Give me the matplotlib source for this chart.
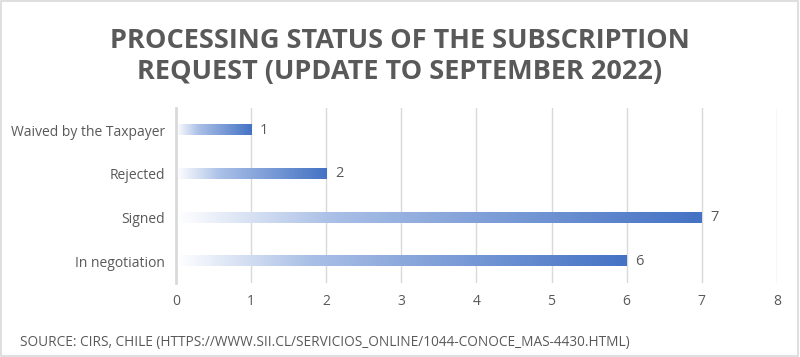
import matplotlib.pyplot as plt
import matplotlib.patches as patches
from matplotlib.colors import LinearSegmentedColormap
import numpy as np

categories = ['In negotiation', 'Signed', 'Rejected', 'Waived by the Taxpayer']
values = [6, 7, 2, 1]
xticks = [0, 1, 2, 3, 4, 5, 6, 7, 8]

title = 'PROCESSING STATUS OF THE SUBSCRIPTION\nREQUEST (UPDATE TO SEPTEMBER 2022)'
source = 'SOURCE: CIRS, CHILE (HTTPS://WWW.SII.CL/SERVICIOS_ONLINE/1044-CONOCE_MAS-4430.HTML)'

grey = '#595959'
blue = '#4472C4'
plt.rcParams['font.family'] = ['Open Sans', 'DejaVu Sans']

fig = plt.figure(figsize=(8, 3.57), dpi=100)
ax = fig.add_axes([0.22, 0.207, 0.751, 0.49])

# white -> light blue fast, then to full blue
cmap = LinearSegmentedColormap.from_list(
    'fade', [(0, '#ffffff'), (0.3, '#a9bfe6'), (1, blue)])
grad = np.linspace(0, 1, 256).reshape(1, -1)
bar_h = 0.23
for i, v in enumerate(values):
    ax.imshow(grad, cmap=cmap, aspect='auto', interpolation='bicubic',
              extent=(0, v, i - bar_h / 2, i + bar_h / 2), zorder=3)
    ax.text(v + 0.12, i, str(v), va='center', ha='left', color=grey, fontsize=10.5)

ax.set_xlim(0, 8)
ax.set_ylim(-0.5, 3.5)
ax.set_yticks(range(len(categories)))
ax.set_yticklabels(categories, color=grey, fontsize=10)
ax.set_xticks(xticks)
ax.set_xticklabels([str(t) for t in xticks], color=grey, fontsize=10)
ax.tick_params(length=0, pad=8)
ax.grid(axis='x', color='#d9d9d9', linewidth=1, zorder=0)
ax.set_axisbelow(True)
for s in ['top', 'right', 'bottom']:
    ax.spines[s].set_visible(False)
ax.spines['left'].set_color('#d9d9d9')
ax.spines['left'].set_linewidth(2)
ax.spines['left'].set_zorder(5)

fig.text(0.5, 0.843, title, ha='center', va='center', fontsize=19.5,
         fontweight='bold', color=grey, linespacing=1.25)
fig.text(0.025, 0.04, source, ha='left', va='center', fontsize=9.8, color=grey)

fig.add_artist(patches.Rectangle((0.001, 0.002), 0.997, 0.995, transform=fig.transFigure,
                                 fill=False, edgecolor='#d9d9d9', linewidth=1.2))

fig.savefig('out.png', dpi=100)
